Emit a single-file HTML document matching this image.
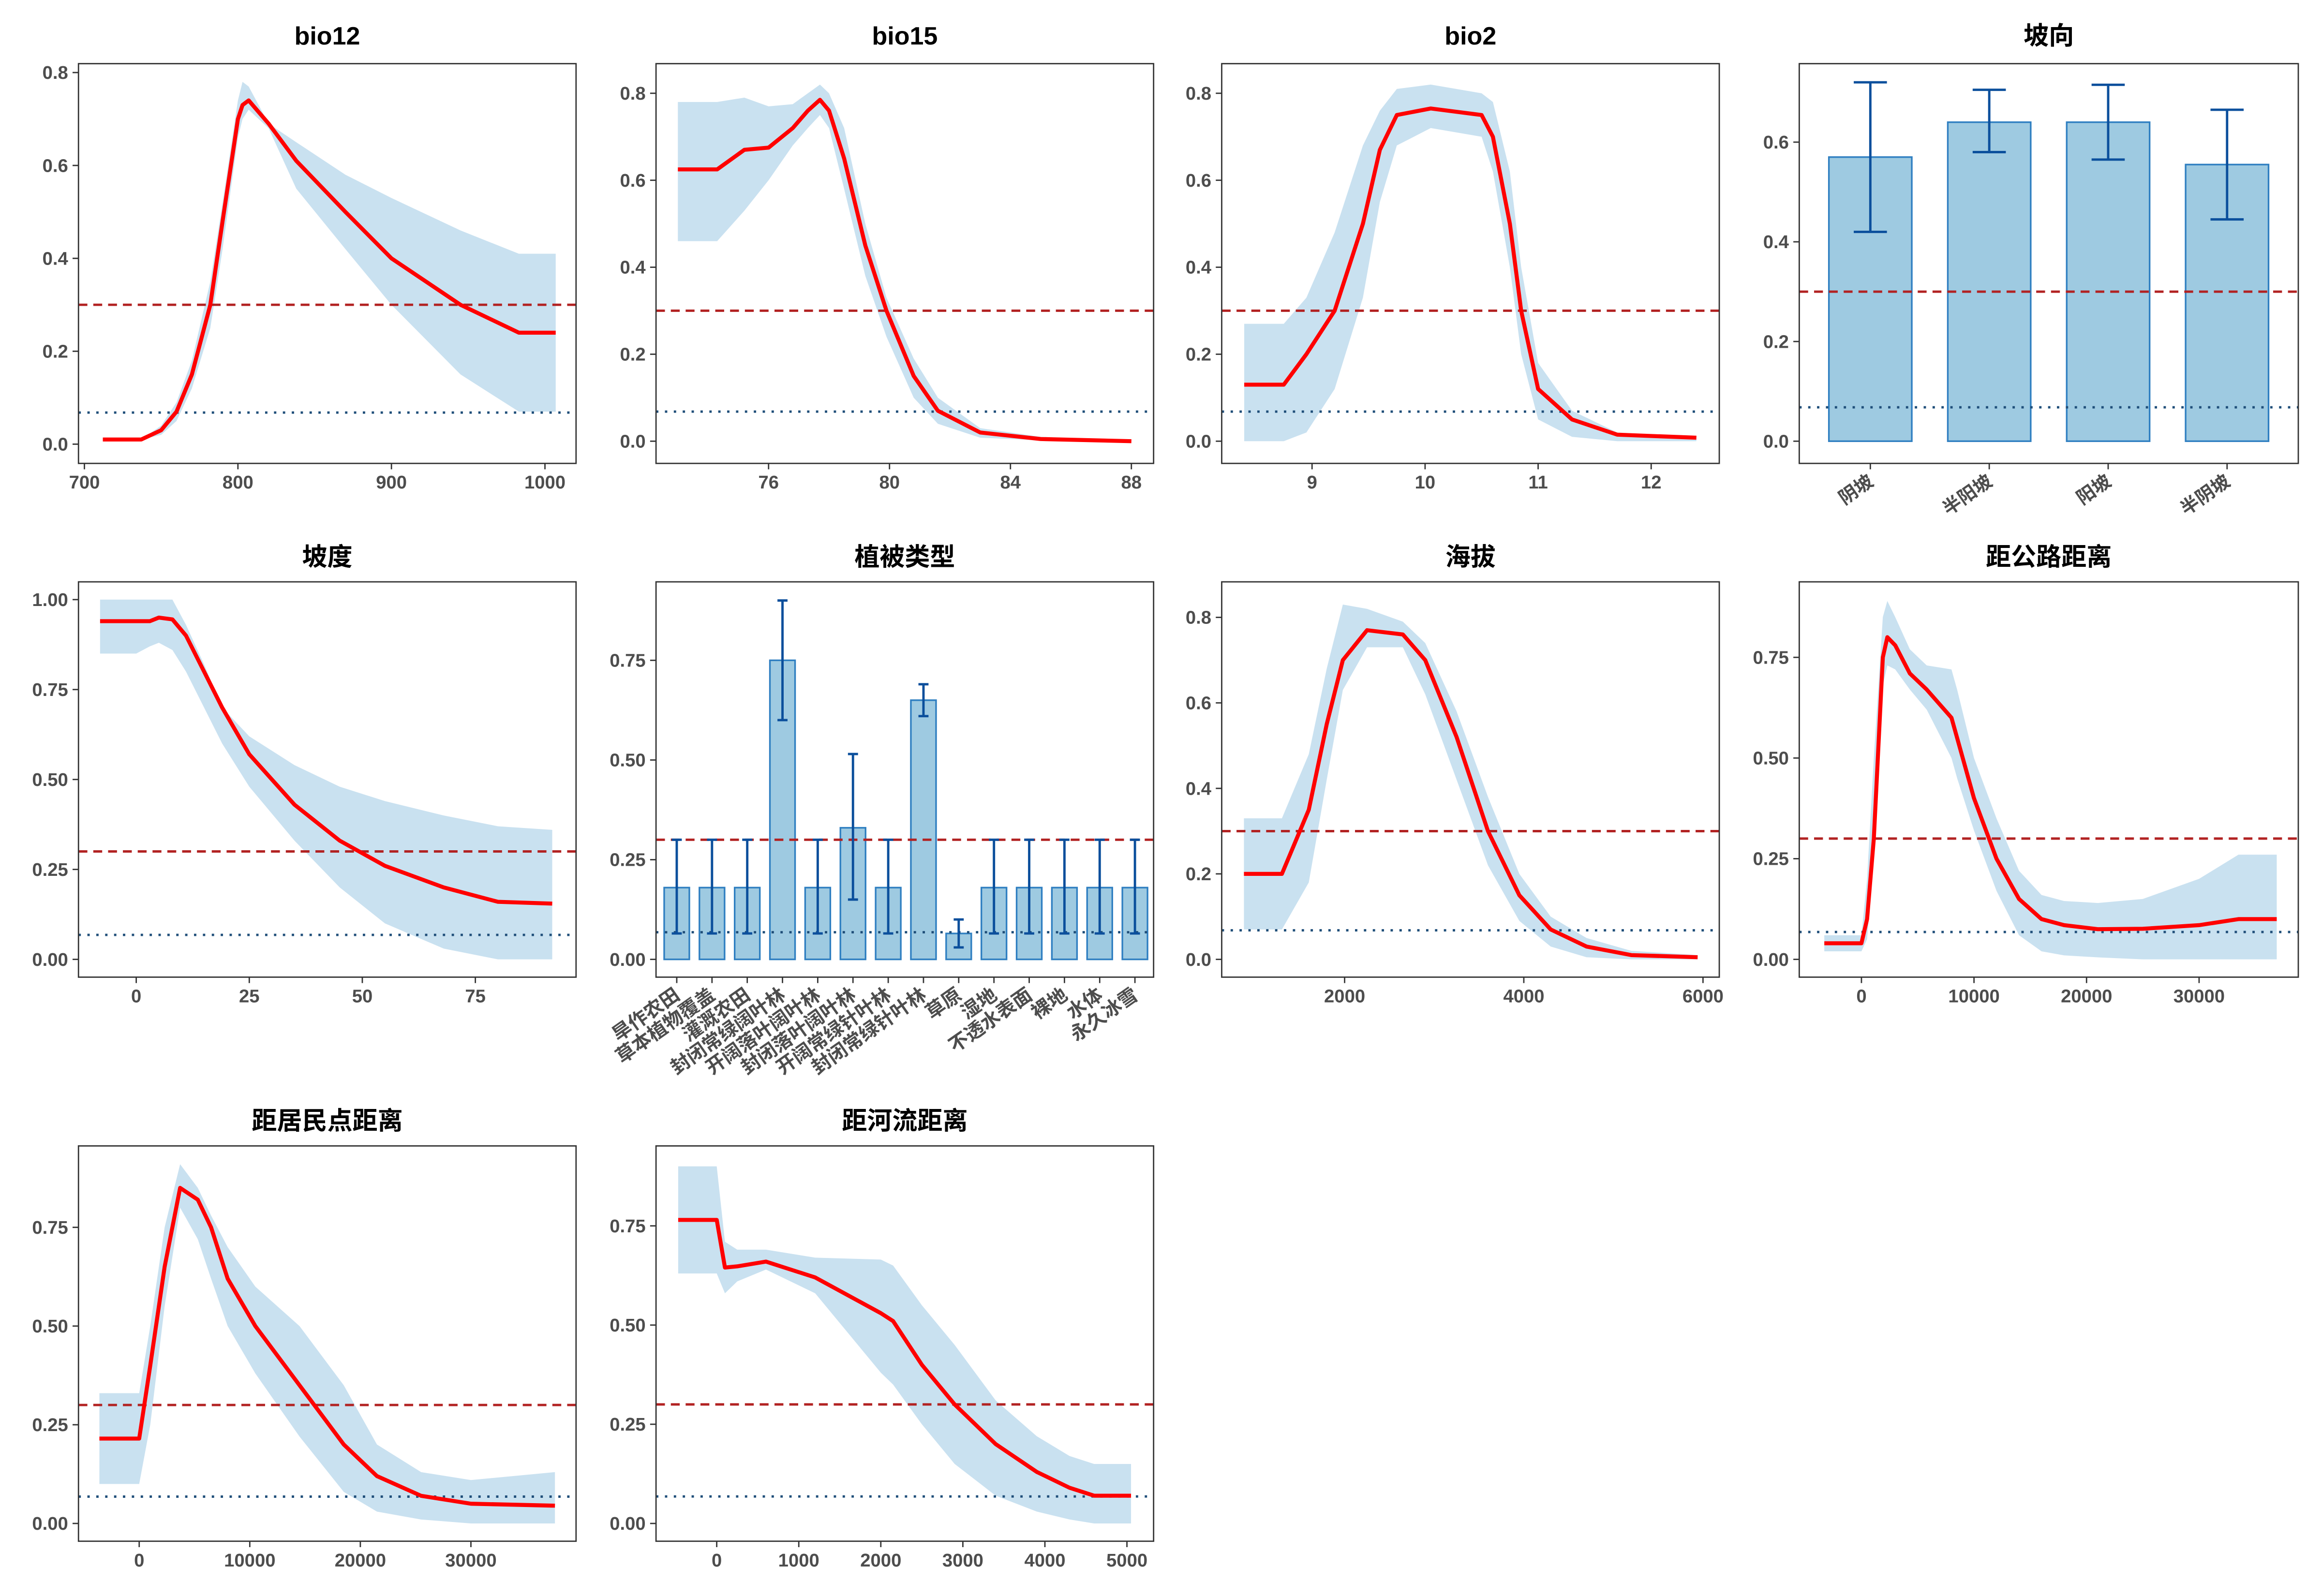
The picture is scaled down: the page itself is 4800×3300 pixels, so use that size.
<!DOCTYPE html>
<html><head><meta charset="utf-8">
<style>
html,body{margin:0;padding:0;background:#fff;}
svg{display:block;}
text{font-family:"Liberation Sans","Noto Sans CJK SC",sans-serif;font-weight:bold;}
</style></head>
<body>
<svg id="chart" width="4800" height="3300" viewBox="0 0 1568 1078" preserveAspectRatio="none" xmlns="http://www.w3.org/2000/svg"></svg>
<script>
// ---- data ----
const bio12X  = [712,737,750,760,770,782,790,800,803,807,820,838,870,900,945,983,1007];
const bio12Y  = [0.01,0.01,0.03,0.07,0.15,0.30,0.48,0.70,0.73,0.74,0.69,0.61,0.50,0.40,0.30,0.24,0.24];
const bio12Up = [0.01,0.01,0.04,0.09,0.18,0.35,0.52,0.74,0.78,0.77,0.69,0.65,0.58,0.53,0.46,0.41,0.41];
const bio12Lo = [0.01,0.01,0.02,0.05,0.12,0.25,0.42,0.66,0.70,0.72,0.68,0.55,0.42,0.30,0.15,0.07,0.07];

const bio15X  = [73,74.3,75.2,76,76.8,77.3,77.7,78,78.5,79.2,79.9,80.8,81.6,83,85,88];
const bio15Y  = [0.625,0.625,0.67,0.675,0.72,0.76,0.785,0.76,0.65,0.45,0.30,0.15,0.07,0.02,0.005,0];
const bio15Up = [0.78,0.78,0.79,0.77,0.775,0.80,0.82,0.80,0.72,0.50,0.33,0.19,0.10,0.03,0.01,0];
const bio15Lo = [0.46,0.46,0.53,0.60,0.68,0.72,0.75,0.72,0.58,0.38,0.24,0.10,0.04,0.008,0.002,0];

const bio2X  = [8.4,8.75,8.95,9.2,9.45,9.6,9.75,10.05,10.5,10.6,10.75,10.85,11,11.3,11.7,12.4];
const bio2Y  = [0.13,0.13,0.20,0.30,0.50,0.67,0.75,0.765,0.75,0.70,0.50,0.30,0.12,0.05,0.015,0.008];
const bio2Up = [0.27,0.27,0.33,0.48,0.68,0.76,0.81,0.82,0.80,0.78,0.62,0.40,0.18,0.07,0.02,0.01];
const bio2Lo = [0,0,0.02,0.12,0.33,0.55,0.68,0.72,0.70,0.62,0.40,0.20,0.05,0.01,0,0];

const aspectCats = ["阴坡","半阳坡","阳坡","半阴坡"];
const aspectVals = [0.57,0.64,0.64,0.555];
const aspectLo   = [0.42,0.58,0.565,0.445];
const aspectHi   = [0.72,0.705,0.715,0.665];

const slopeX  = [-8,0,3,5,8,11,15,19,25,35,45,55,68,80,92];
const slopeY  = [0.94,0.94,0.94,0.95,0.945,0.90,0.80,0.70,0.57,0.43,0.33,0.26,0.20,0.16,0.155];
const slopeUp = [1.0,1.0,1.0,1.0,1.0,0.93,0.82,0.70,0.62,0.54,0.48,0.44,0.40,0.37,0.36];
const slopeLo = [0.85,0.85,0.87,0.88,0.86,0.80,0.70,0.60,0.48,0.33,0.20,0.10,0.03,0,0];

const vegCats = ["旱作农田","草本植物覆盖","灌溉农田","封闭常绿阔叶林","开阔落叶阔叶林","封闭落叶阔叶林","开阔常绿针叶林","封闭常绿针叶林","草原","湿地","不透水表面","裸地","水体","永久冰雪"];
const vegVals = [0.18,0.18,0.18,0.75,0.18,0.33,0.18,0.65,0.065,0.18,0.18,0.18,0.18,0.18];
const vegLo   = [0.065,0.065,0.065,0.60,0.065,0.15,0.065,0.61,0.03,0.065,0.065,0.065,0.065,0.065];
const vegHi   = [0.30,0.30,0.30,0.90,0.30,0.515,0.30,0.69,0.10,0.30,0.30,0.30,0.30,0.30];

const elevX  = [876,1300,1600,1800,1980,2250,2650,2900,3250,3600,3950,4300,4700,5200,5940];
const elevY  = [0.20,0.20,0.35,0.55,0.70,0.77,0.76,0.70,0.52,0.30,0.15,0.07,0.03,0.01,0.005];
const elevUp = [0.33,0.33,0.48,0.68,0.83,0.82,0.79,0.74,0.58,0.38,0.20,0.10,0.05,0.02,0.01];
const elevLo = [0.07,0.07,0.18,0.42,0.63,0.73,0.73,0.62,0.42,0.22,0.09,0.03,0.005,0,0];

const roadX  = [-3300,0,500,1100,1900,2300,3000,4300,5800,8000,8500,10000,12000,14000,16000,18000,21000,25000,30000,33500,36900];
const roadY  = [0.04,0.04,0.10,0.30,0.75,0.80,0.78,0.71,0.67,0.60,0.55,0.40,0.25,0.15,0.10,0.085,0.075,0.076,0.085,0.10,0.10];
const roadUp = [0.06,0.06,0.20,0.50,0.85,0.89,0.85,0.77,0.73,0.72,0.67,0.50,0.35,0.22,0.16,0.145,0.14,0.15,0.20,0.26,0.26];
const roadLo = [0.02,0.02,0.05,0.25,0.68,0.73,0.72,0.67,0.62,0.50,0.45,0.32,0.17,0.06,0.02,0.01,0.005,0,0,0,0];

const resX  = [-3600,0,1000,2300,3700,5300,6500,8000,10500,14500,18500,21500,25500,30000,37600];
const resY  = [0.215,0.215,0.40,0.65,0.85,0.82,0.75,0.62,0.50,0.35,0.20,0.12,0.07,0.05,0.045];
const resUp = [0.33,0.33,0.50,0.75,0.91,0.85,0.78,0.70,0.60,0.50,0.35,0.20,0.13,0.11,0.13];
const resLo = [0.10,0.10,0.25,0.55,0.80,0.72,0.62,0.50,0.38,0.22,0.08,0.03,0.01,0,0];

const riverX  = [-470,0,100,250,600,1200,2000,2150,2500,2900,3400,3900,4300,4600,5050];
const riverY  = [0.765,0.765,0.645,0.648,0.66,0.62,0.53,0.51,0.40,0.30,0.20,0.13,0.09,0.07,0.07];
const riverUp = [0.90,0.90,0.71,0.69,0.69,0.67,0.665,0.65,0.55,0.45,0.31,0.22,0.17,0.15,0.15];
const riverLo = [0.63,0.63,0.58,0.61,0.64,0.58,0.38,0.35,0.25,0.15,0.07,0.03,0.01,0,0];

const redThr = 0.30, blueThr = 0.068;

// ---- drawing ----
const NS = "http://www.w3.org/2000/svg";
const svg = document.getElementById("chart");
function mk(tag, attrs, parent){ const e=document.createElementNS(NS,tag); for(const k in attrs) e.setAttribute(k,attrs[k]); (parent||svg).appendChild(e); return e; }
function lin(d0,d1,r0,r1){ return v => r0 + (v-d0)*(r1-r0)/(d1-d0); }

function frame(p){
  const g = mk("g",{});
  
  
  const t = mk("text",{x:(p.x0+p.x1)/2,y:p.ty,"text-anchor":"middle","font-size":17,fill:"#000"},g);
  t.textContent = p.title;
  
  
  return g;
}
function hlines(g,p,ys){
  const r = mk("line",{x1:p.x0,x2:p.x1,y1:ys(redThr),y2:ys(redThr),stroke:"#b22222","stroke-width":1.6,"stroke-dasharray":"6,4"},g);
  
  
  const b = mk("line",{x1:p.x0,x2:p.x1,y1:ys(blueThr),y2:ys(blueThr),stroke:"#1f4e79","stroke-width":1.6,"stroke-dasharray":"1.6,4.4"},g);
  
  
}
function box(g,p){
  const r = mk("rect",{x:p.x0,y:p.y0,width:p.x1-p.x0,height:p.y1-p.y0,fill:"none",stroke:"#333","stroke-width":0.9},g);
  
  
}
function yaxis(g,p,ys,ticks){
  ticks.forEach(t=>{
    const y=ys(t.v);
    mk("line",{x1:p.x0-4,x2:p.x0,y1:y,y2:y,stroke:"#333","stroke-width":0.9},g);
    const tx=mk("text",{x:p.x0-7,y:y+4.3,"text-anchor":"end","font-size":12.5,fill:"#4d4d4d"},g);
    tx.textContent=t.l;
    
    
  });
}
function xaxis(g,p,xs,ticks){
  ticks.forEach(t=>{
    const x=xs(t);
    mk("line",{x1:x,x2:x,y1:p.y1,y2:p.y1+4,stroke:"#333","stroke-width":0.9},g);
    const tx=mk("text",{x:x,y:p.y1+17,"text-anchor":"middle","font-size":12.5,fill:"#4d4d4d"},g);
    tx.textContent=String(t);
    
    
  });
}
function curvePanel(p,X,Y,Up,Lo,xd,yd,xt,yt){
  const g=frame(p);
  const xs=lin(xd[0],xd[1],xd[2],xd[3]);
  const ys=lin(yd[0],yd[1],yd[2],yd[3]);
  let pts=X.map((x,i)=>xs(x)+","+ys(Up[i]));
  for(let i=X.length-1;i>=0;i--) pts.push(xs(X[i])+","+ys(Lo[i]));
  const rib=mk("polygon",{points:pts.join(" "),fill:"#c9e1f0",stroke:"none"},g);
  
  
  hlines(g,p,ys);
  const ln=mk("polyline",{points:X.map((x,i)=>xs(x)+","+ys(Y[i])).join(" "),fill:"none",stroke:"#ff0000","stroke-width":2.7,"stroke-linejoin":"round"},g);
  
  
  box(g,p); yaxis(g,p,ys,yt); xaxis(g,p,xs,xt);
}
function barPanel(p,cats,vals,lo,hi,yd,yt,first,step,bw,fs){
  const g=frame(p);
  const ys=lin(yd[0],yd[1],yd[2],yd[3]);
  cats.forEach((c,i)=>{
    const cx=first+i*step;
    const r=mk("rect",{x:cx-bw/2,y:ys(vals[i]),width:bw,height:ys(0)-ys(vals[i]),fill:"#9ecae1",stroke:"#2f7fc1","stroke-width":1.1},g);
    
    
  });
  hlines(g,p,ys);
  cats.forEach((c,i)=>{
    const cx=first+i*step, cw=bw*0.2;
    const e=mk("path",{d:`M${cx-cw},${ys(hi[i])}H${cx+cw}M${cx},${ys(hi[i])}V${ys(lo[i])}M${cx-cw},${ys(lo[i])}H${cx+cw}`,stroke:"#0b4f9c","stroke-width":1.6,fill:"none"},g);
    
    
  });
  box(g,p); yaxis(g,p,ys,yt);
  cats.forEach((c,i)=>{
    const cx=first+i*step;
    mk("line",{x1:cx,x2:cx,y1:p.y1,y2:p.y1+4,stroke:"#333","stroke-width":0.9},g);
    const tx=mk("text",{x:cx+3,y:p.y1+14,"text-anchor":"end","font-size":fs,fill:"#4d4d4d",transform:`rotate(-35 ${cx+3} ${p.y1+14})`},g);
    tx.textContent=c;
    
    
  });
}
const t08=[{v:0,l:"0.0"},{v:0.2,l:"0.2"},{v:0.4,l:"0.4"},{v:0.6,l:"0.6"},{v:0.8,l:"0.8"}];
const t075=[{v:0,l:"0.00"},{v:0.25,l:"0.25"},{v:0.5,l:"0.50"},{v:0.75,l:"0.75"}];
const t100=[{v:0,l:"0.00"},{v:0.25,l:"0.25"},{v:0.5,l:"0.50"},{v:0.75,l:"0.75"},{v:1,l:"1.00"}];

curvePanel({name:"bio12",title:"bio12",x0:53,x1:389,y0:43,y1:313,ty:30},bio12X,bio12Y,bio12Up,bio12Lo,[700,1000,57,368],[0,0.8,300,49],[700,800,900,1000],t08);
curvePanel({name:"bio15",title:"bio15",x0:443,x1:779,y0:43,y1:313,ty:30},bio15X,bio15Y,bio15Up,bio15Lo,[76,88,519,764],[0,0.8,298,63],[76,80,84,88],t08);
curvePanel({name:"bio2",title:"bio2",x0:825,x1:1161,y0:43,y1:313,ty:30},bio2X,bio2Y,bio2Up,bio2Lo,[9,12,886,1115],[0,0.8,298,63],[9,10,11,12],t08);
barPanel({name:"aspect",title:"坡向",x0:1215,x1:1552,y0:43,y1:313,ty:30},aspectCats,aspectVals,aspectLo,aspectHi,[0,0.6,298,96],[{v:0,l:"0.0"},{v:0.2,l:"0.2"},{v:0.4,l:"0.4"},{v:0.6,l:"0.6"}],1263,80.3,56,12.5);
curvePanel({name:"slope",title:"坡度",x0:53,x1:389,y0:393,y1:660,ty:382},slopeX,slopeY,slopeUp,slopeLo,[0,75,92,321],[0,1,648,405],[0,25,50,75],t100);
barPanel({name:"vegetation",title:"植被类型",x0:443,x1:779,y0:393,y1:660,ty:382},vegCats,vegVals,vegLo,vegHi,[0,0.75,648,446],t075,457,23.8,17,13);
curvePanel({name:"elevation",title:"海拔",x0:825,x1:1161,y0:393,y1:660,ty:382},elevX,elevY,elevUp,elevLo,[2000,6000,908,1150],[0,0.8,648,417],[2000,4000,6000],t08);
curvePanel({name:"road-distance",title:"距公路距离",x0:1215,x1:1552,y0:393,y1:660,ty:382},roadX,roadY,roadUp,roadLo,[0,30000,1257,1485],[0,0.75,648,444],[0,10000,20000,30000],t075);
curvePanel({name:"settlement-distance",title:"距居民点距离",x0:53,x1:389,y0:774,y1:1041,ty:763},resX,resY,resUp,resLo,[0,30000,94,318],[0,0.75,1029,829],[0,10000,20000,30000],t075);
curvePanel({name:"river-distance",title:"距河流距离",x0:443,x1:779,y0:774,y1:1041,ty:763},riverX,riverY,riverUp,riverLo,[0,5000,484,761],[0,0.75,1029,828],[0,1000,2000,3000,4000,5000],t075);
</script>
</body></html>
